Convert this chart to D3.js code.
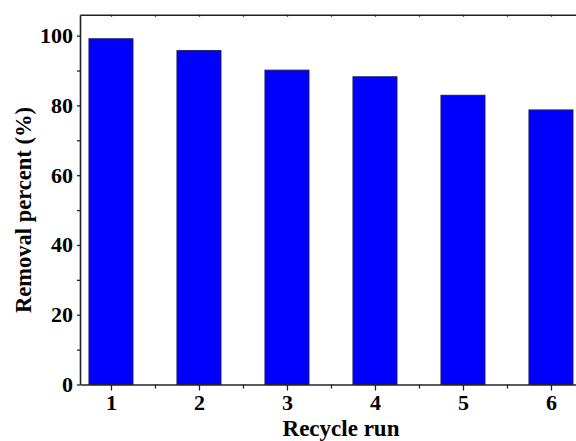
<!DOCTYPE html>
<html><head><meta charset="utf-8">
<script src="https://cdn.jsdelivr.net/npm/d3@7"></script>
<style>body{margin:0;background:#fff}svg{display:block}</style>
</head><body>
<svg id="c" width="576" height="441"></svg>
<script>
const runs = [1, 2, 3, 4, 5, 6];
const removal = [99.1, 95.7, 90.1, 88.2, 82.9, 78.7];
const yTicks = [0, 20, 40, 60, 80, 100];

const svg = d3.select("#c");
const L = 80, T = 14.7, B = 384.5;
const x = d3.scaleLinear().domain([0.648, 6.35]).range([L, L + 88 * (6.35 - 0.648)]);
const y = d3.scaleLinear().domain([0, 106]).range([B, T]);
const font = "'Liberation Serif','Times New Roman',serif";

// bars
svg.append("g").selectAll("rect").data(runs).join("rect")
  .attr("x", (d) => x(d - 0.25))
  .attr("width", x(1.25) - x(0.75))
  .attr("y", (d, i) => y(removal[i]))
  .attr("height", (d, i) => y(0) - y(removal[i]))
  .attr("fill", "#0000ff").attr("stroke", "#1a1a60").attr("stroke-width", 1);

// axes
const ax = "#222";
const minorX = d3.range(1.5, 6, 1);
const minorY = d3.range(10, 106, 20);
// bottom
svg.append("g").attr("transform", `translate(0,${B})`)
  .call(d3.axisBottom(x).tickValues(runs).tickSize(6).tickSizeOuter(0).tickPadding(4).tickFormat(d3.format("d")));
svg.append("g").attr("transform", `translate(0,${B})`)
  .call(d3.axisBottom(x).tickValues(minorX).tickSize(4).tickSizeOuter(0).tickFormat(""))
  .select(".domain").remove();
// top
svg.append("g").attr("transform", `translate(0,${T})`)
  .call(d3.axisBottom(x).tickValues(runs.concat(minorX)).tickSize(2).tickSizeOuter(0).tickFormat(""));
// left
svg.append("g").attr("transform", `translate(${L},0)`)
  .call(d3.axisLeft(y).tickValues(yTicks).tickSize(3).tickSizeOuter(0).tickPadding(4));
svg.append("g").attr("transform", `translate(${L},0)`)
  .call(d3.axisLeft(y).tickValues(minorY).tickSize(3).tickSizeOuter(0).tickFormat(""))
  .select(".domain").remove();

svg.selectAll(".domain").attr("stroke", ax).attr("stroke-width", 1.6);
svg.selectAll(".tick line").attr("stroke", ax).attr("stroke-width", 1.3);
svg.selectAll(".tick text").attr("font-family", font).attr("font-weight", "bold")
  .attr("font-size", 22).attr("fill", "#000");

// titles
svg.append("text").attr("x", 341).attr("y", 436).attr("text-anchor", "middle")
  .attr("font-family", font).attr("font-weight", "bold").attr("font-size", 23)
  .text("Recycle run");
svg.append("text").attr("transform", `translate(31,210) rotate(-90)`)
  .attr("text-anchor", "middle")
  .attr("font-family", font).attr("font-weight", "bold").attr("font-size", 22.5)
  .text("Removal percent (%)");
</script>
</body></html>
